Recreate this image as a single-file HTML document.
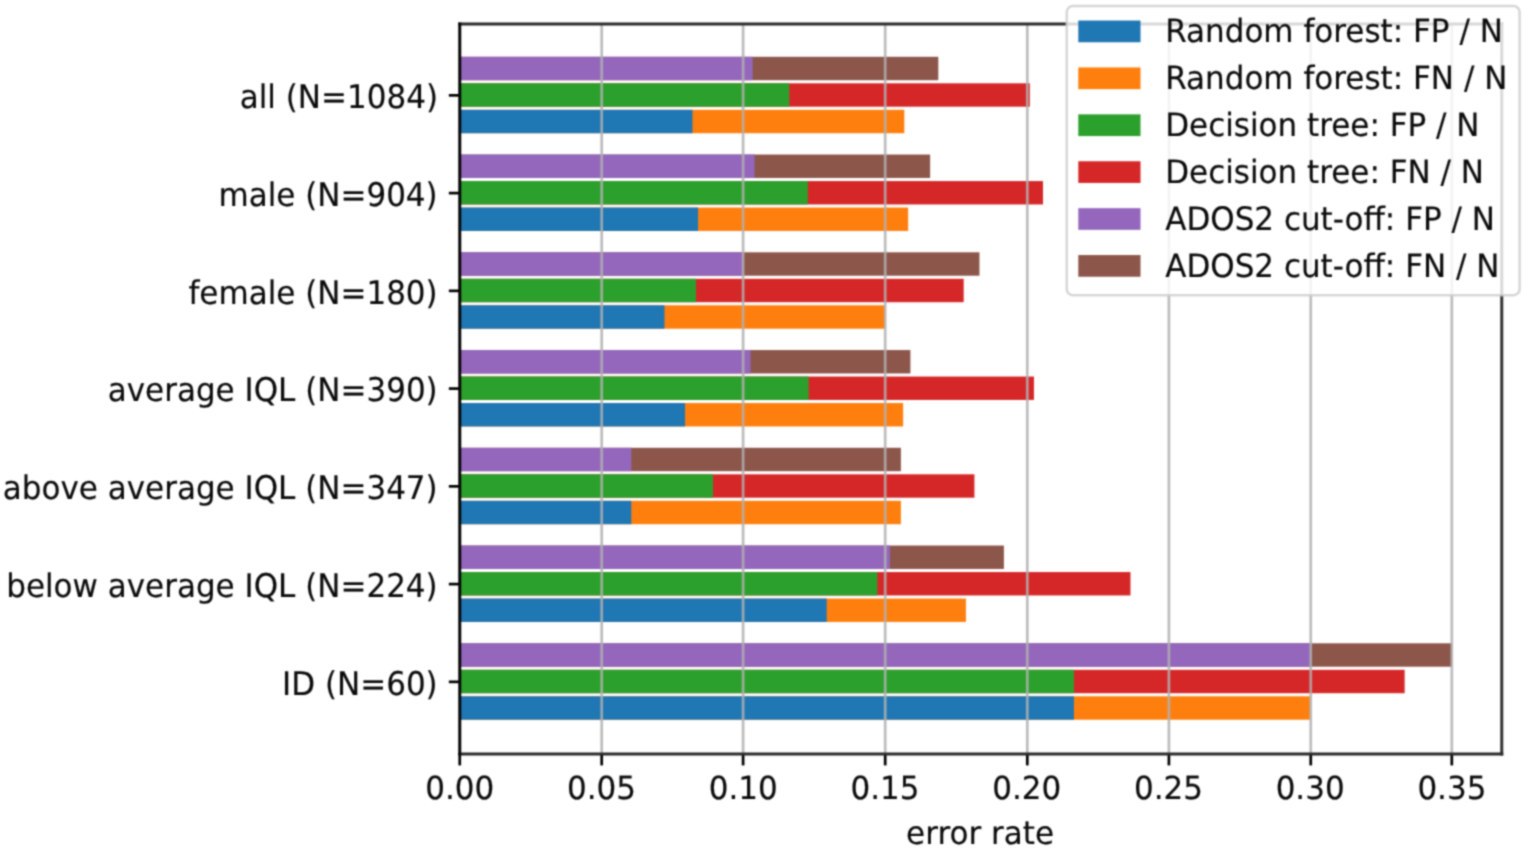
<!DOCTYPE html>
<html lang="en"><head><meta charset="utf-8"><title>error rate by subgroup</title>
<style>html,body{margin:0;padding:0;background:#fff}body{width:1535px;height:852px;overflow:hidden}svg{display:block}text{font-family:"DejaVu Sans","Liberation Sans",sans-serif;font-size:31.0px;fill:#0a0a0a;stroke:#0a0a0a;stroke-width:0.16px;text-rendering:geometricPrecision}</style>
</head><body>
<svg width="1535" height="852" viewBox="0 0 1535 852">
<defs><filter id="soft" color-interpolation-filters="sRGB" x="0" y="0" width="1535" height="852" filterUnits="userSpaceOnUse"><feConvolveMatrix order="5" kernelMatrix="0.00023 0.00332 0.00809 0.00332 0.00023 0.00332 0.04785 0.11640 0.04785 0.00332 0.00809 0.11640 0.28313 0.11640 0.00809 0.00332 0.04785 0.11640 0.04785 0.00332 0.00023 0.00332 0.00809 0.00332 0.00023" edgeMode="duplicate" preserveAlpha="true"/></filter></defs>
<rect x="0" y="0" width="1535" height="852" fill="#ffffff"/>
<g filter="url(#soft)">
<rect x="0" y="0" width="1535" height="852" fill="#ffffff"/>
<g id="bars">
<rect x="459.75" y="56.80" width="478.55" height="23.40" fill="#8c564b"/>
<rect x="459.75" y="56.80" width="292.89" height="23.40" fill="#9467bd"/>
<rect x="459.75" y="83.30" width="570.08" height="23.40" fill="#d62728"/>
<rect x="459.75" y="83.30" width="329.50" height="23.40" fill="#2ca02c"/>
<rect x="459.75" y="109.80" width="444.56" height="23.40" fill="#ff7f0e"/>
<rect x="459.75" y="109.80" width="232.74" height="23.40" fill="#1f77b4"/>
<rect x="459.75" y="154.55" width="470.36" height="23.40" fill="#8c564b"/>
<rect x="459.75" y="154.55" width="294.76" height="23.40" fill="#9467bd"/>
<rect x="459.75" y="181.05" width="583.25" height="23.40" fill="#d62728"/>
<rect x="459.75" y="181.05" width="348.07" height="23.40" fill="#2ca02c"/>
<rect x="459.75" y="207.55" width="448.41" height="23.40" fill="#ff7f0e"/>
<rect x="459.75" y="207.55" width="238.32" height="23.40" fill="#1f77b4"/>
<rect x="459.75" y="252.30" width="519.70" height="23.40" fill="#8c564b"/>
<rect x="459.75" y="252.30" width="283.47" height="23.40" fill="#9467bd"/>
<rect x="459.75" y="278.80" width="503.95" height="23.40" fill="#d62728"/>
<rect x="459.75" y="278.80" width="236.23" height="23.40" fill="#2ca02c"/>
<rect x="459.75" y="305.30" width="425.21" height="23.40" fill="#ff7f0e"/>
<rect x="459.75" y="305.30" width="204.73" height="23.40" fill="#1f77b4"/>
<rect x="459.75" y="350.05" width="450.65" height="23.40" fill="#8c564b"/>
<rect x="459.75" y="350.05" width="290.74" height="23.40" fill="#9467bd"/>
<rect x="459.75" y="376.55" width="574.21" height="23.40" fill="#d62728"/>
<rect x="459.75" y="376.55" width="348.89" height="23.40" fill="#2ca02c"/>
<rect x="459.75" y="403.05" width="443.38" height="23.40" fill="#ff7f0e"/>
<rect x="459.75" y="403.05" width="225.32" height="23.40" fill="#1f77b4"/>
<rect x="459.75" y="447.80" width="441.14" height="23.40" fill="#8c564b"/>
<rect x="459.75" y="447.80" width="171.55" height="23.40" fill="#9467bd"/>
<rect x="459.75" y="474.30" width="514.66" height="23.40" fill="#d62728"/>
<rect x="459.75" y="474.30" width="253.25" height="23.40" fill="#2ca02c"/>
<rect x="459.75" y="500.80" width="441.14" height="23.40" fill="#ff7f0e"/>
<rect x="459.75" y="500.80" width="171.55" height="23.40" fill="#1f77b4"/>
<rect x="459.75" y="545.55" width="544.16" height="23.40" fill="#8c564b"/>
<rect x="459.75" y="545.55" width="430.27" height="23.40" fill="#9467bd"/>
<rect x="459.75" y="572.05" width="670.71" height="23.40" fill="#d62728"/>
<rect x="459.75" y="572.05" width="417.61" height="23.40" fill="#2ca02c"/>
<rect x="459.75" y="598.55" width="506.20" height="23.40" fill="#ff7f0e"/>
<rect x="459.75" y="598.55" width="366.99" height="23.40" fill="#1f77b4"/>
<rect x="459.75" y="643.30" width="992.15" height="23.40" fill="#8c564b"/>
<rect x="459.75" y="643.30" width="850.41" height="23.40" fill="#9467bd"/>
<rect x="459.75" y="669.80" width="944.90" height="23.40" fill="#d62728"/>
<rect x="459.75" y="669.80" width="614.19" height="23.40" fill="#2ca02c"/>
<rect x="459.75" y="696.30" width="850.41" height="23.40" fill="#ff7f0e"/>
<rect x="459.75" y="696.30" width="614.19" height="23.40" fill="#1f77b4"/>
</g>
<g id="grid" stroke="#b0b0b0" stroke-opacity="0.85" stroke-width="2.7">
<line x1="601.70" y1="24.00" x2="601.70" y2="754.00"/>
<line x1="743.10" y1="24.00" x2="743.10" y2="754.00"/>
<line x1="885.20" y1="24.00" x2="885.20" y2="754.00"/>
<line x1="1027.30" y1="24.00" x2="1027.30" y2="754.00"/>
<line x1="1168.90" y1="24.00" x2="1168.90" y2="754.00"/>
<line x1="1310.75" y1="24.00" x2="1310.75" y2="754.00"/>
<line x1="1451.80" y1="24.00" x2="1451.80" y2="754.00"/>
</g>
<g id="ticks" stroke="#000" stroke-width="2.70">
<line x1="459.75" y1="754.00" x2="459.75" y2="765.40"/>
<line x1="601.70" y1="754.00" x2="601.70" y2="765.40"/>
<line x1="743.10" y1="754.00" x2="743.10" y2="765.40"/>
<line x1="885.20" y1="754.00" x2="885.20" y2="765.40"/>
<line x1="1027.30" y1="754.00" x2="1027.30" y2="765.40"/>
<line x1="1168.90" y1="754.00" x2="1168.90" y2="765.40"/>
<line x1="1310.75" y1="754.00" x2="1310.75" y2="765.40"/>
<line x1="1451.80" y1="754.00" x2="1451.80" y2="765.40"/>
<line x1="448.85" y1="95.35" x2="459.75" y2="95.35"/>
<line x1="448.85" y1="193.10" x2="459.75" y2="193.10"/>
<line x1="448.85" y1="290.85" x2="459.75" y2="290.85"/>
<line x1="448.85" y1="388.60" x2="459.75" y2="388.60"/>
<line x1="448.85" y1="486.35" x2="459.75" y2="486.35"/>
<line x1="448.85" y1="584.10" x2="459.75" y2="584.10"/>
<line x1="448.85" y1="681.85" x2="459.75" y2="681.85"/>
</g>
<g id="spines" stroke-width="3.00" stroke-linecap="square">
<line x1="459.75" y1="24.00" x2="1501.75" y2="24.00" stroke="#2a2a2a"/>
<line x1="1501.75" y1="24.00" x2="1501.75" y2="754.00" stroke="#303030"/>
<line x1="459.75" y1="754.00" x2="1501.75" y2="754.00" stroke="#2a2a2a"/>
<line x1="459.75" y1="24.00" x2="459.75" y2="754.00" stroke="#060606"/>
</g>
<g id="xlabels" text-anchor="middle">
<text transform="translate(459.75 799.00) scale(1 1.025) rotate(0.02)">0.00</text>
<text transform="translate(601.49 799.00) scale(1 1.025) rotate(0.02)">0.05</text>
<text transform="translate(743.22 799.00) scale(1 1.025) rotate(0.02)">0.10</text>
<text transform="translate(884.96 799.00) scale(1 1.025) rotate(0.02)">0.15</text>
<text transform="translate(1026.69 799.00) scale(1 1.025) rotate(0.02)">0.20</text>
<text transform="translate(1168.43 799.00) scale(1 1.025) rotate(0.02)">0.25</text>
<text transform="translate(1310.16 799.00) scale(1 1.025) rotate(0.02)">0.30</text>
<text transform="translate(1451.90 799.00) scale(1 1.025) rotate(0.02)">0.35</text>
<text transform="translate(980.05 844.30) scale(1 1.030) rotate(0.02)">error rate</text>
</g>
<g id="ylabels" text-anchor="end">
<text transform="translate(438.00 107.65) scale(1 1.050) rotate(0.02)">all (N=1084)</text>
<text transform="translate(437.70 205.90) scale(1 1.050) rotate(0.02)">male (N=904)</text>
<text transform="translate(437.70 303.65) scale(1 1.050) rotate(0.02)">female (N=180)</text>
<text transform="translate(437.70 401.40) scale(1 1.050) rotate(0.02)">average IQL (N=390)</text>
<text transform="translate(437.70 499.15) scale(1 1.050) rotate(0.02)">above average IQL (N=347)</text>
<text transform="translate(437.70 596.90) scale(1 1.050) rotate(0.02)">below average IQL (N=224)</text>
<text transform="translate(437.70 694.65) scale(1 1.050) rotate(0.02)">ID (N=60)</text>
</g>
<g id="legend">
<rect x="1066.75" y="6.10" width="452.85" height="289.10" rx="6" ry="6" fill="#ffffff" fill-opacity="0.82" stroke="#cccccc" stroke-opacity="0.8" stroke-width="2.50"/>
<rect x="1078.30" y="20.55" width="62.20" height="21.70" fill="#1f77b4"/>
<text transform="translate(1165.20 42.15) scale(1 1.040) rotate(0.02)">Random forest: FP / N</text>
<rect x="1078.30" y="67.45" width="62.20" height="21.70" fill="#ff7f0e"/>
<text transform="translate(1165.20 89.05) scale(1 1.040) rotate(0.02)">Random forest: FN / N</text>
<rect x="1078.30" y="114.35" width="62.20" height="21.70" fill="#2ca02c"/>
<text transform="translate(1165.20 135.95) scale(1 1.040) rotate(0.02)">Decision tree: FP / N</text>
<rect x="1078.30" y="161.25" width="62.20" height="21.70" fill="#d62728"/>
<text transform="translate(1165.20 182.85) scale(1 1.040) rotate(0.02)">Decision tree: FN / N</text>
<rect x="1078.30" y="208.15" width="62.20" height="21.70" fill="#9467bd"/>
<text transform="translate(1165.20 229.75) scale(1 1.040) rotate(0.02)">ADOS2 cut-off: FP / N</text>
<rect x="1078.30" y="255.05" width="62.20" height="21.70" fill="#8c564b"/>
<text transform="translate(1165.20 276.65) scale(1 1.040) rotate(0.02)">ADOS2 cut-off: FN / N</text>
</g>
</g>
</svg>
</body></html>
